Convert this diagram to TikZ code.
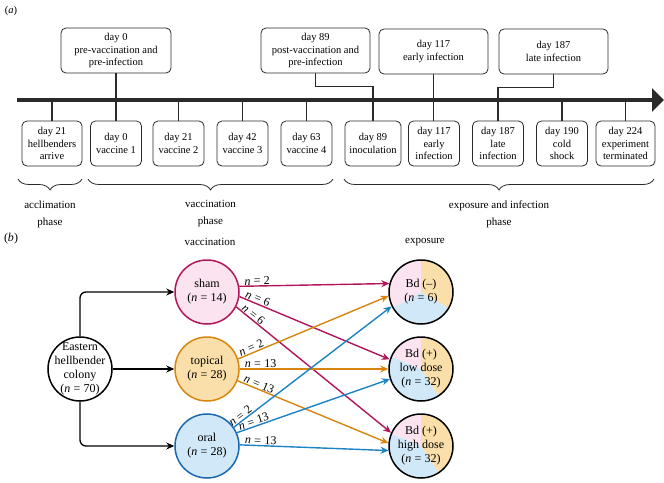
\documentclass[tikz,border=0pt]{standalone}
\usepackage{fontspec}
\setmainfont{Liberation Serif}
\usetikzlibrary{arrows.meta,decorations.pathreplacing}
\definecolor{shamC}{HTML}{B2155A}
\definecolor{shamF}{HTML}{FBE3EF}
\definecolor{topC}{HTML}{D6860F}
\definecolor{topF}{HTML}{FADFAB}
\definecolor{oralC}{HTML}{1A68B0}
\definecolor{oralA}{HTML}{1C84C4}
\definecolor{oralF}{HTML}{D0E8F7}
\definecolor{lineC}{HTML}{2A2A2A}
\newcommand{\nn}[1]{\textit{n}\;=\;#1}
\newcommand{\piesec}[4]{\fill[#4] (#1) -- ++(-#2:32) arc[start angle=-#2, end angle=-#3, radius=32] -- cycle;}
\begin{document}
\begin{tikzpicture}[x=1pt,y=-1pt,
  every node/.style={font=\fontsize{10.5}{12.5}\selectfont},
  bfont/.style={font=\fontsize{12}{14}\selectfont},
  tbox/.style={draw=lineC, line width=0.8pt, rounded corners=5pt, align=center, inner sep=1pt, minimum height=45pt},
  conn/.style={draw=lineC, line width=1.2pt},
  axisline/.style={draw=lineC, line width=3.5pt, -{Triangle[length=12pt,width=23pt]}},
  brc/.style={draw=lineC, line width=0.8pt, decorate, decoration={brace, mirror, amplitude=11pt}},
  grp/.style={circle, line width=1.5pt, minimum size=64pt, inner sep=0pt},
  clab/.style={align=center, bfont},
  blk/.style={draw=black, line width=1.3pt, rounded corners=6pt, -{Stealth[length=8pt,width=7pt]}},
  carr/.style={line width=1.4pt, -{Stealth[length=8pt,width=7pt]}},
  nlab/.style={sloped, above, inner sep=0.5pt, bfont}
]
\useasboundingbox (0,0) rectangle (664,482);

% ---------- (a) ----------
\node (la) at (11,11) {(\textit{a})};

\coordinate (axL) at (17,100);
\coordinate (axR) at (664,100);
\draw[axisline] (axL) -- (axR);

\node[tbox, minimum width=110pt] (t0) at (116,50.5) {day 0\\pre-vaccination and\\pre-infection};
\node[tbox, minimum width=109pt] (t89) at (315.5,50.5) {day 89\\post-vaccination and\\pre-infection};
\node[tbox, minimum width=109pt] (t117) at (433.5,51.5) {day 117\\early infection};
\node[tbox, minimum width=109pt] (t187) at (553.5,51.5) {day 187\\late infection};

\node[tbox, minimum width=60pt] (b21) at (52,143.5) {day 21\\hellbenders\\arrive};
\node[tbox, minimum width=51pt] (b0) at (116,143.5) {day 0\\vaccine 1};
\node[tbox, minimum width=51pt] (bv2) at (178.5,143.5) {day 21\\vaccine 2};
\node[tbox, minimum width=51pt] (bv3) at (242.5,143.5) {day 42\\vaccine 3};
\node[tbox, minimum width=51pt] (bv4) at (306.5,143.5) {day 63\\vaccine 4};
\node[tbox, minimum width=56pt] (b89) at (373,143.5) {day 89\\inoculation};
\node[tbox, minimum width=51pt] (b117) at (434,143.5) {day 117\\early\\infection};
\node[tbox, minimum width=51pt] (b187) at (498,143.5) {day 187\\late\\infection};
\node[tbox, minimum width=51pt] (b190) at (562,143.5) {day 190\\cold\\shock};
\node[tbox, minimum width=59pt] (b224) at (625.5,143.5) {day 224\\experiment\\terminated};

\draw[conn] (t0.south) -- (b0.north);
\draw[conn] (t117.south) -- (t117.south |- b117.north);
\draw[conn] (t89.south) -- ++(0,13) -| (b89.north);
\draw[conn] (t187.south) -- ++(0,13) -| (b187.north);
\foreach \b in {b21,bv2,bv3,bv4,b190,b224}{
  \draw[conn] (\b.north) -- ++(0,-21);
}

\coordinate (br1a) at (18,179); \coordinate (br1b) at (82,179);
\coordinate (br2a) at (88,179); \coordinate (br2b) at (333,179);
\coordinate (br3a) at (344,179); \coordinate (br3b) at (654,179);
\draw[brc] (br1a) -- (br1b);
\draw[brc] (br2a) -- (br2b);
\draw[brc] (br3a) -- (br3b);
\node[align=center, font=\fontsize{11}{17}\selectfont] (ph1) at (50,214) {acclimation\\phase};
\node[align=center, font=\fontsize{11}{17}\selectfont] (ph2) at (210.5,214) {vaccination\\phase};
\node[align=center, font=\fontsize{11}{17}\selectfont] (ph3) at (499,214) {exposure and infection\\phase};

% ---------- (b) ----------
\node[bfont] (lb) at (11,239) {(\textit{b})};
\node[font=\fontsize{11}{13}\selectfont] (hv) at (210,242) {vaccination};
\node[font=\fontsize{11}{13}\selectfont] (he) at (425,242) {exposure};

\node[grp, draw=black, fill=white, label={[clab]center:Eastern\\hellbender\\colony\\(\nn{70})}] (col) at (80,369) {};
\node[grp, draw=shamC, fill=shamF, label={[clab]center:sham\\(\nn{14})}] (sham) at (207,292) {};
\node[grp, draw=topC, fill=topF, label={[clab]center:topical\\(\nn{28})}] (top) at (207,369) {};
\node[grp, draw=oralC, fill=oralF, label={[clab]center:oral\\(\nn{28})}] (oral) at (207,446) {};

% pies
\coordinate (pc1) at (421,292);
\coordinate (pc2) at (421,369);
\coordinate (pc3) at (421,446);
\piesec{pc1}{90}{210}{shamF}
\piesec{pc1}{210}{330}{oralF}
\piesec{pc1}{330}{450}{topF}
\piesec{pc2}{90}{157.5}{shamF}
\piesec{pc2}{157.5}{303.75}{oralF}
\piesec{pc2}{303.75}{450}{topF}
\piesec{pc3}{90}{157.5}{shamF}
\piesec{pc3}{157.5}{303.75}{oralF}
\piesec{pc3}{303.75}{450}{topF}
\node[grp, draw=black, label={[clab]center:Bd (--)\\(\nn{6})}] (bdn) at (pc1) {};
\node[grp, draw=black, label={[clab]center:Bd (+)\\low dose\\(\nn{32})}] (low) at (pc2) {};
\node[grp, draw=black, label={[clab]center:Bd (+)\\high dose\\(\nn{32})}] (high) at (pc3) {};

\draw[blk] (col.north) |- (sham.west);
\draw[blk] (col.east) -- (top.west);
\draw[blk] (col.south) |- (oral.west);

\draw[carr, draw=shamC, fill=shamC] (sham.10) -- node[nlab, pos=0.12]{\nn{2}} (bdn.165);
\draw[carr, draw=shamC, fill=shamC] (sham.-8) -- node[nlab, pos=0.11]{\nn{6}} (low.163);
\draw[carr, draw=shamC, fill=shamC] (sham.-27) -- node[nlab, pos=0.09]{\nn{6}} (high.156);
\draw[carr, draw=topC, fill=topC] (top.18) -- node[nlab, pos=0.10]{\nn{2}} (bdn.187);
\draw[carr, draw=topC, fill=topC] (top.0) -- node[nlab, pos=0.14]{\nn{13}} (low.180);
\draw[carr, draw=topC, fill=topC] (top.-21) -- node[nlab, pos=0.13]{\nn{13}} (high.175);
\draw[carr, draw=oralA, fill=oralA] (oral.35) -- node[nlab, pos=0.06]{\nn{2}} (bdn.206);
\draw[carr, draw=oralA, fill=oralA] (oral.24) -- node[nlab, pos=0.12]{\nn{13}} (low.198);
\draw[carr, draw=oralA, fill=oralA] (oral.2) -- node[nlab, pos=0.14]{\nn{13}} (high.188);
\end{tikzpicture}
\end{document}
